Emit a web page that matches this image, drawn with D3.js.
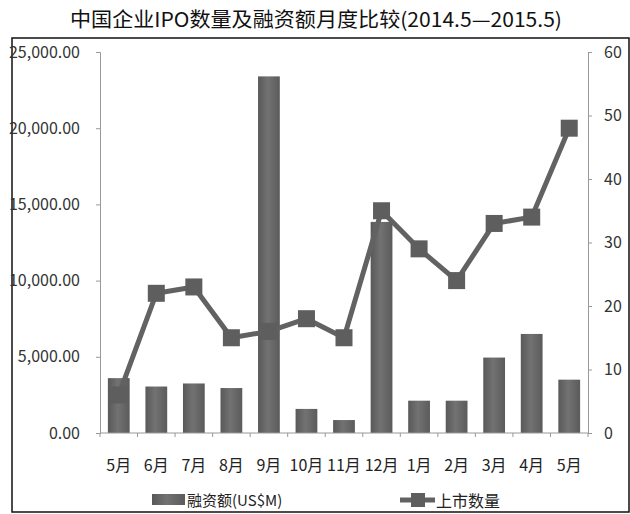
<!DOCTYPE html>
<html>
<head>
<meta charset="utf-8">
<script src="https://cdn.jsdelivr.net/npm/d3@7"></script>
<style>
  body { margin: 0; background: #fff; }
  svg text { font-family: "Liberation Sans Narrow", "Noto Sans CJK SC", sans-serif; }
  .cjk { font-family: "Noto Sans CJK SC", sans-serif; }
</style>
</head>
<body>
<script>
var months = ['5月','6月','7月','8月','9月','10月','11月','12月','1月','2月','3月','4月','5月']
var amount = [3600, 3050, 3250, 2950, 23400, 1580, 850, 13850, 2120, 2120, 4950, 6500, 3500]
var count = [6, 22, 23, 15, 16, 18, 15, 35, 29, 24, 33, 34, 48]
var leftTicks = [0, 5000, 10000, 15000, 20000, 25000]
var rightTicks = [0, 10, 20, 30, 40, 50, 60]

var wdt = 630, hgt = 514
var svg = d3.select(document.body).append('svg')
  .attr('width', wdt).attr('height', hgt)

var m = {left: 100, right: 588, top: 52, bottom: 433}

var defs = svg.append('defs')
var grad = defs.append('linearGradient').attr('id', 'bargrad')
  .attr('x1', '0%').attr('x2', '100%').attr('y1', '0%').attr('y2', '0%')
grad.append('stop').attr('offset', '0%').attr('stop-color', '#595959')
grad.append('stop').attr('offset', '45%').attr('stop-color', '#727272')
grad.append('stop').attr('offset', '100%').attr('stop-color', '#5b5b5b')

// outer frame
svg.append('rect').attr('x', 12).attr('y', 38).attr('width', 617).attr('height', 474)
  .attr('fill', 'none').attr('stroke', '#111').attr('stroke-width', 1.5)

svg.append('text').attr('class', 'cjk')
  .attr('x', 316).attr('y', 27).attr('text-anchor', 'middle')
  .attr('font-size', 20).attr('fill', '#111')
  .attr('textLength', 492).attr('lengthAdjust', 'spacingAndGlyphs')
  .text('中国企业IPO数量及融资额月度比较(2014.5—2015.5)')

var x = d3.scaleBand().domain(d3.range(months.length))
  .range([m.left, m.right]).paddingInner(0.42).paddingOuter(0.21)
var yL = d3.scaleLinear().domain([0, 25000]).range([m.bottom, m.top])
var yR = d3.scaleLinear().domain([0, 60]).range([m.bottom, m.top])

// bars
svg.append('g').selectAll('rect').data(amount).enter().append('rect')
  .attr('x', function(d, i) { return x(i) })
  .attr('y', function(d) { return yL(d) })
  .attr('width', x.bandwidth())
  .attr('height', function(d) { return m.bottom - yL(d) })
  .attr('fill', 'url(#bargrad)')

// axes
var fmt = d3.format(',.2f')
var la = svg.append('g').attr('transform', 'translate(' + m.left + ',0)')
  .call(d3.axisLeft(yL).tickValues(leftTicks).tickFormat(fmt).tickSize(4).tickPadding(16))
var ra = svg.append('g').attr('transform', 'translate(' + m.right + ',0)')
  .call(d3.axisRight(yR).tickValues(rightTicks).tickSize(4).tickPadding(12))
;[la, ra].forEach(function(a) {
  a.select('.domain').attr('stroke', '#999')
  a.selectAll('.tick line').attr('stroke', '#999')
  a.selectAll('.tick text').attr('font-size', 16).attr('fill', '#333')
    .attr('font-family', '"Liberation Sans Narrow", sans-serif')
})

// x axis
var step = x.step()
var bounds = d3.range(months.length + 1).map(function(i) { return m.left + i * step })
var xa = svg.append('g')
xa.append('line').attr('x1', m.left).attr('x2', m.right)
  .attr('y1', m.bottom).attr('y2', m.bottom).attr('stroke', '#999')
xa.selectAll('.bt').data(bounds).enter().append('line')
  .attr('x1', function(d) { return d }).attr('x2', function(d) { return d })
  .attr('y1', m.bottom).attr('y2', m.bottom + 4).attr('stroke', '#999')
xa.selectAll('text').data(months).enter().append('text').attr('class', 'cjk')
  .attr('x', function(d, i) { return x(i) + x.bandwidth() / 2 })
  .attr('y', 471).attr('text-anchor', 'middle')
  .attr('font-size', 16).attr('fill', '#222')
  .text(function(d) { return d })

// line
var line = d3.line()
  .x(function(d, i) { return x(i) + x.bandwidth() / 2 })
  .y(function(d) { return yR(d) })
svg.append('path').datum(count).attr('d', line)
  .attr('fill', 'none').attr('stroke', '#626262').attr('stroke-width', 5)
  .attr('stroke-linejoin', 'round')
svg.append('g').selectAll('rect').data(count).enter().append('rect')
  .attr('x', function(d, i) { return x(i) + x.bandwidth() / 2 - 8.5 })
  .attr('y', function(d) { return yR(d) - 8.5 })
  .attr('width', 17).attr('height', 17)
  .attr('fill', '#5e5e5e')

// legend
var lg = svg.append('g')
lg.append('rect').attr('x', 152).attr('y', 494).attr('width', 33).attr('height', 11)
  .attr('fill', 'url(#bargrad)')
lg.append('text').attr('class', 'cjk').attr('x', 187).attr('y', 506)
  .attr('font-size', 15).attr('fill', '#222').text('融资额(US$M)')
lg.append('line').attr('x1', 400).attr('x2', 435).attr('y1', 500).attr('y2', 500)
  .attr('stroke', '#626262').attr('stroke-width', 5)
lg.append('rect').attr('x', 411).attr('y', 493).attr('width', 14).attr('height', 14)
  .attr('fill', '#5e5e5e')
lg.append('text').attr('class', 'cjk').attr('x', 436).attr('y', 507)
  .attr('font-size', 16).attr('fill', '#222').text('上市数量')
</script>
</body>
</html>
